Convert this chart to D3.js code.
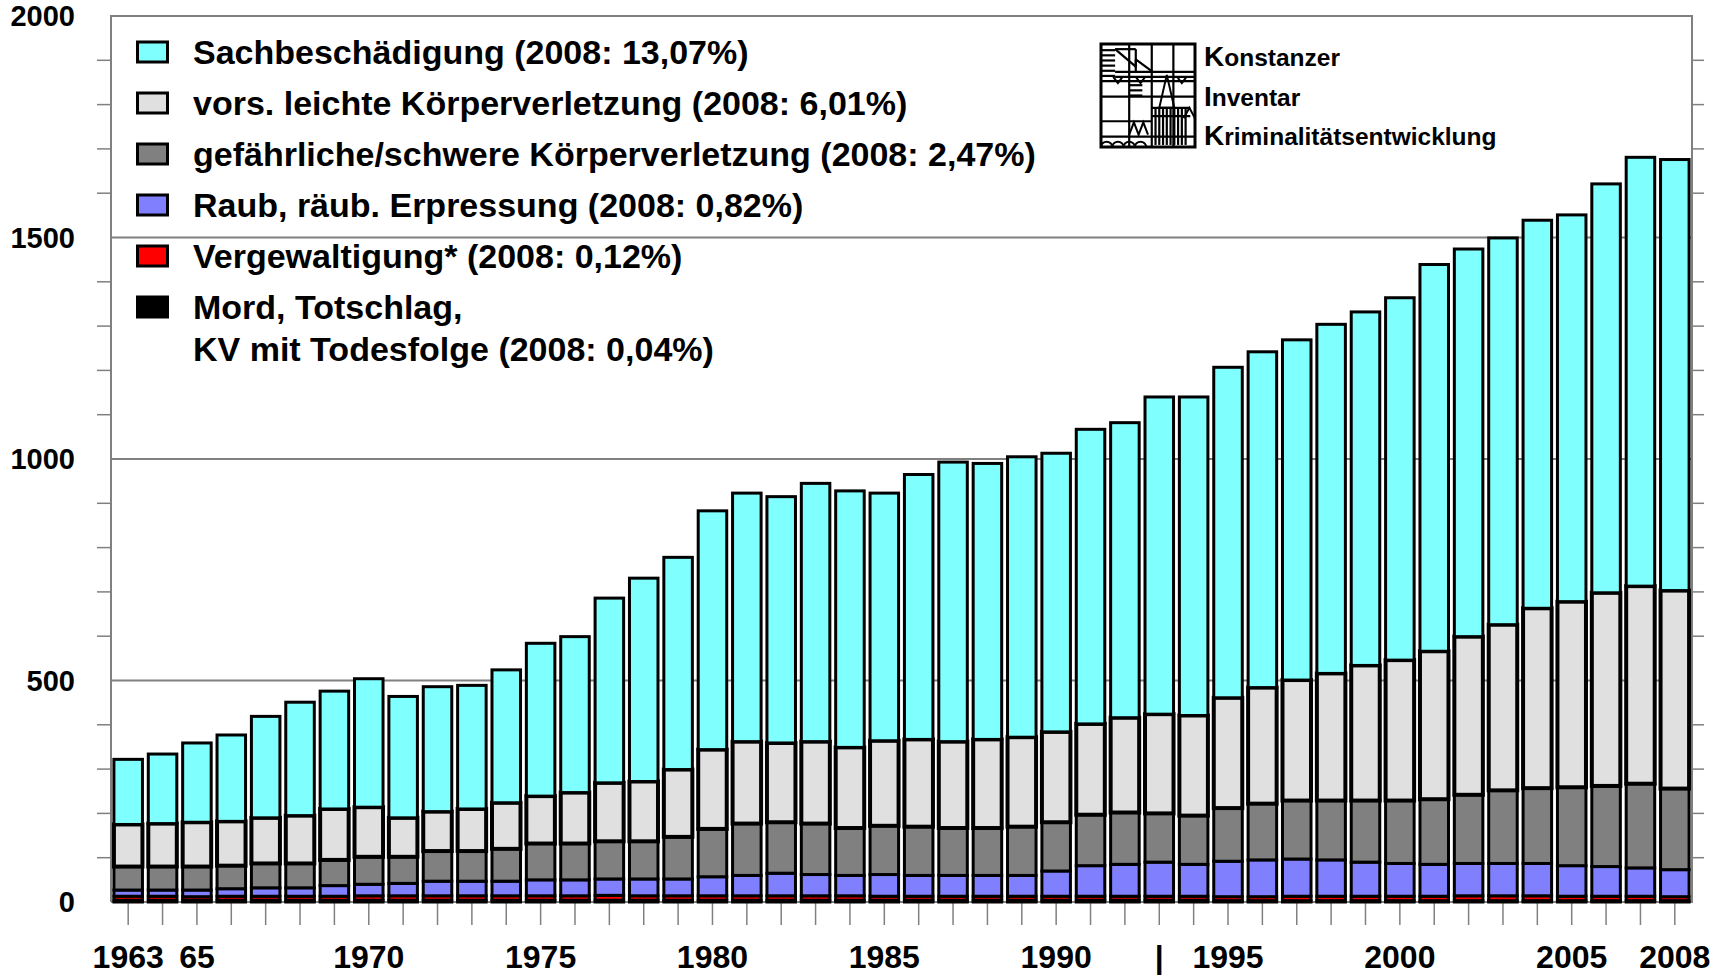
<!DOCTYPE html>
<html>
<head>
<meta charset="utf-8">
<script src="https://cdn.jsdelivr.net/npm/d3@7"></script>
<style>
  body { margin: 0; background: #fff; }
  text { font-family: "Liberation Sans", Arial, sans-serif; font-weight: bold; fill: #000; }
</style>
</head>
<body>
<div id="container"></div>
<script>
// ---- data (per 100.000) ----
const years = [1963,1964,1965,1966,1967,1968,1969,1970,1971,1972,
               1973,1974,1975,1976,1977,1978,1979,1980,1981,1982,
               1983,1984,1985,1986,1987,1988,1989,1990,1991,1992,
               1993,1994,1995,1996,1997,1998,1999,2000,2001,2002,
               2003,2004,2005,2006,2007,2008];

const mord = [4,4,4,4,4,4,4,4,4,4, 4,4,4,4,4,4,4,4,4,4,
              4,4,4,4,4,4,4,4,4,4, 4,4,3,3,3,3,3,3,3,3, 3,3,3,3,3,3];
const vergewaltigung = [9,9,8,9,9,9,9,10,10,10, 10,10,10,10,11,10,10,10,10,10,
                        10,10,9,9,9,9,9,9,9,9, 9,9,9,9,10,10,10,10,10,11, 11,11,10,10,10,9];
const raub = [14,14,15,17,19,19,24,26,28,33, 33,33,36,36,37,38,38,43,46,51,
              48,46,49,47,47,47,47,57,69,72, 77,72,80,83,84,82,77,74,72,73, 73,73,69,67,64,61];
const gefKV = [53,53,53,52,55,55,58,62,60,68, 68,73,82,82,85,85,95,108,117,115,
               115,107,110,110,107,107,110,110,115,117, 110,110,120,127,132,134,139,142,147,155,
               165,170,177,182,190,183];
const leichteKV = [95,97,100,100,103,108,115,112,88,89, 95,104,107,115,132,135,152,179,185,179,
                   185,182,192,197,195,200,202,204,205,214, 224,226,249,262,272,287,305,317,334,357,
                   374,406,419,436,446,447];
const sachbesch = [147,157,179,195,229,256,266,290,274,282, 279,300,345,352,417,459,479,539,561,556,
                   583,579,559,598,631,623,633,629,665,666, 716,719,746,758,768,788,798,818,873,875,
                   873,876,873,923,968,973];

const seriesKeys = ["mord","vergewaltigung","raub","gefKV","leichteKV","sachbesch"];
const seriesColors = ["#000000","#ff0000","#8080ff","#808080","#e0e0e0","#80ffff"];
const seriesStroke = [3, 3, 3, 3, 4, 3];

const legendLabels = [
  ["Sachbeschädigung (2008: 13,07%)"],
  ["vors. leichte Körperverletzung (2008: 6,01%)"],
  ["gefährliche/schwere Körperverletzung (2008: 2,47%)"],
  ["Raub, räub. Erpressung (2008: 0,82%)"],
  ["Vergewaltigung* (2008: 0,12%)"],
  ["Mord, Totschlag,", "KV mit Todesfolge (2008: 0,04%)"]
];
const legendColors = ["#80ffff","#e0e0e0","#808080","#8080ff","#ff0000","#000000"];

const xLabelYears = [1963,1965,1970,1975,1980,1985,1990,1993,1995,2000,2005,2008];
const xLabelTexts = ["1963","65","1970","1975","1980","1985","1990","|","1995","2000","2005","2008"];
const yMajor = [0,500,1000,1500,2000];
const yMinor = [100,200,300,400,600,700,800,900,1100,1200,1300,1400,1600,1700,1800,1900];

// ---- chart ----
const width = 1732, height = 976;
const plotLeft = 111, plotRight = 1692, plotTop = 16, plotBottom = 902;

const svg = d3.create("svg")
    .attr("width", width)
    .attr("height", height);

svg.append("rect").attr("width", width).attr("height", height).attr("fill", "#fff");

const x = d3.scaleBand()
    .domain(years)
    .range([plotLeft, plotRight])
    .paddingInner(0.17)
    .paddingOuter(0.085);

const y = d3.scaleLinear()
    .domain([0, 2000])
    .range([plotBottom, plotTop]);

// table for stacking
const table = years.map((yr, i) => ({
  year: yr,
  mord: mord[i],
  vergewaltigung: vergewaltigung[i],
  raub: raub[i],
  gefKV: gefKV[i],
  leichteKV: leichteKV[i],
  sachbesch: sachbesch[i]
}));
const stacked = d3.stack().keys(seriesKeys)(table);

// grid lines at 500 steps
svg.append("g")
  .selectAll("line")
  .data(yMajor.filter(v => v > 0 && v < 2000))
  .join("line")
    .attr("x1", plotLeft).attr("x2", plotRight)
    .attr("y1", d => y(d)).attr("y2", d => y(d))
    .attr("stroke", "#808080")
    .attr("stroke-width", 2);

// minor ticks outside the frame, both sides
svg.append("g")
  .selectAll("line")
  .data(yMinor)
  .join("line")
    .attr("x1", plotLeft - 14).attr("x2", plotLeft)
    .attr("y1", d => y(d)).attr("y2", d => y(d))
    .attr("stroke", "#808080")
    .attr("stroke-width", 1.5);
svg.append("g")
  .selectAll("line")
  .data(yMinor)
  .join("line")
    .attr("x1", plotRight).attr("x2", plotRight + 12)
    .attr("y1", d => y(d)).attr("y2", d => y(d))
    .attr("stroke", "#808080")
    .attr("stroke-width", 1.5);

// frame
svg.append("path")
    .attr("d", `M${plotLeft},${plotBottom}V${plotTop}H${plotRight}V${plotBottom}H${plotLeft}`)
    .attr("fill", "none")
    .attr("stroke", "#808080")
    .attr("stroke-width", 2);

// x ticks below axis, one per year
svg.append("g")
  .selectAll("line")
  .data(years)
  .join("line")
    .attr("x1", d => x(d) + x.bandwidth() / 2)
    .attr("x2", d => x(d) + x.bandwidth() / 2)
    .attr("y1", plotBottom).attr("y2", plotBottom + 23)
    .attr("stroke", "#808080")
    .attr("stroke-width", 1.5);

// bars
stacked.forEach((s, k) => {
  svg.append("g")
    .selectAll("rect")
    .data(s)
    .join("rect")
      .attr("x", d => x(d.data.year))
      .attr("width", x.bandwidth())
      .attr("y", d => y(d[1]))
      .attr("height", d => y(d[0]) - y(d[1]))
      .attr("fill", seriesColors[k])
      .attr("stroke", "#000")
      .attr("stroke-width", seriesStroke[k]);
});

// y labels
svg.append("g")
  .selectAll("text")
  .data(yMajor)
  .join("text")
    .attr("x", 75)
    .attr("y", d => y(d) + 10)
    .attr("text-anchor", "end")
    .attr("font-size", 29)
    .text(d => d);

// x labels
svg.append("g")
  .selectAll("text")
  .data(xLabelYears)
  .join("text")
    .attr("x", d => x(d) + x.bandwidth() / 2)
    .attr("y", 968)
    .attr("text-anchor", "middle")
    .attr("font-size", 32)
    .text((d, i) => xLabelTexts[i]);

// legend
const rowY = [52, 103, 154, 205, 256, 307];
const leg = svg.append("g");
legendLabels.forEach((lines, i) => {
  leg.append("rect")
    .attr("x", 137.5).attr("y", rowY[i] - 10)
    .attr("width", 30).attr("height", 20)
    .attr("fill", legendColors[i])
    .attr("stroke", "#000")
    .attr("stroke-width", 3);
  lines.forEach((t, j) => {
    leg.append("text")
      .attr("x", 193)
      .attr("y", rowY[i] + 12 + j * 42)
      .attr("font-size", 34)
      .text(t);
  });
});

// logo (Konstanzer Inventar)
const logo = svg.append("g").attr("transform", "translate(1101,44)");
const lw = 94, lh = 103;
const L = (x1, y1, x2, y2) => logo.append("line")
    .attr("x1", x1 * lw).attr("y1", y1 * lh).attr("x2", x2 * lw).attr("y2", y2 * lh)
    .attr("stroke", "#000").attr("stroke-width", 2.2);
logo.append("rect").attr("width", lw).attr("height", lh)
    .attr("fill", "none").attr("stroke", "#000").attr("stroke-width", 3);
[0.30, 0.54, 0.77].forEach(v => L(v, 0, v, 1));
[0.36, 0.51, 0.90].forEach(v => L(0, v, 1, v));
L(0, 0.75, 0.54, 0.75);
[0.06, 0.11, 0.16, 0.21, 0.26, 0.31].forEach(v => L(0, v, 0.15, v));
[0.27, 0.32].forEach(v => L(0.15, v, 1, v));
L(0.15, 0.05, 0.37, 0.05); L(0.15, 0.05, 0.37, 0.22); L(0.37, 0.05, 0.37, 0.22);
L(0.37, 0.15, 0.55, 0.27); L(0.37, 0.15, 0.37, 0.27);
[0.18, 0.42, 0.86].forEach(v => logo.append("path")
    .attr("d", `M${(v - 0.05) * lw},${0.32 * lh}L${v * lw},${0.38 * lh}L${(v + 0.05) * lw},${0.32 * lh}`)
    .attr("fill", "none").attr("stroke", "#000").attr("stroke-width", 2));
[0.40, 0.45, 0.50].forEach(v => L(0.30, v, 0.44, v));
logo.append("path")
    .attr("d", `M${0.62 * lw},${0.62 * lh}L${0.70 * lw},${0.30 * lh}L${0.78 * lw},${0.62 * lh}Z`)
    .attr("fill", "none").attr("stroke", "#000").attr("stroke-width", 2);
[0.58, 0.62, 0.66, 0.70, 0.74, 0.78, 0.82, 0.86, 0.90].forEach(v => L(v, 0.62, v, 0.98));
L(0.54, 0.62, 0.95, 0.62); L(0.54, 0.70, 0.95, 0.70);
logo.append("path")
    .attr("d", `M${0.30 * lw},${0.88 * lh}L${0.35 * lw},${0.76 * lh}L${0.40 * lw},${0.88 * lh}L${0.45 * lw},${0.76 * lh}L${0.50 * lw},${0.88 * lh}M${0.88 * lw},${0.72 * lh}L${0.94 * lw},${0.62 * lh}L${1.0 * lw},${0.72 * lh}`)
    .attr("fill", "none").attr("stroke", "#000").attr("stroke-width", 2);
[0.06, 0.18, 0.30, 0.42].forEach(v => logo.append("path")
    .attr("d", `M${(v - 0.06) * lw},${lh}A${0.06 * lw},${0.05 * lh} 0 0 1 ${(v + 0.06) * lw},${lh}`)
    .attr("fill", "none").attr("stroke", "#000").attr("stroke-width", 2));

const logoLines = [["K", "onstanzer"], ["I", "nventar"], ["K", "riminalitätsentwicklung"]];
const logoY = [66, 106, 145];
logoLines.forEach((p, i) => {
  const t = svg.append("text").attr("x", 1204).attr("y", logoY[i]);
  t.append("tspan").attr("font-size", 28).text(p[0]);
  t.append("tspan").attr("font-size", 24.5).text(p[1]);
});

document.getElementById("container").append(svg.node());
</script>
</body>
</html>
